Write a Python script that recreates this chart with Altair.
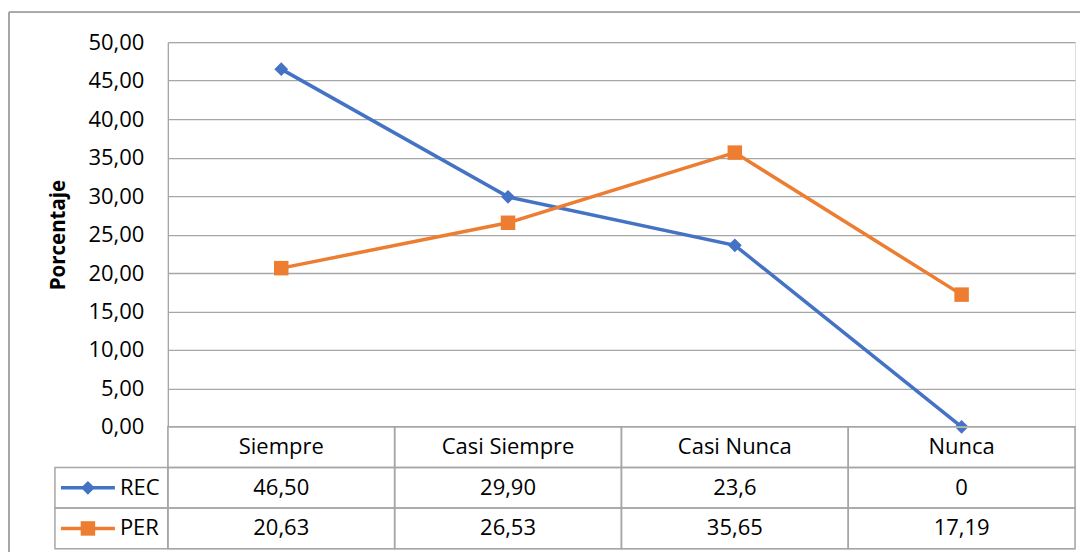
import altair as alt
import pandas as pd

categories = ["Siempre", "Casi Siempre", "Casi Nunca", "Nunca"]
series_names = ["REC", "PER"]
rec_values = [46.50, 29.90, 23.6, 0]
per_values = [20.63, 26.53, 35.65, 17.19]
rec_labels = ["46,50", "29,90", "23,6", "0"]
per_labels = ["20,63", "26,53", "35,65", "17,19"]
y_ticks = [0, 5, 10, 15, 20, 25, 30, 35, 40, 45, 50]
y_title = "Porcentaje"

colors = ["#4472C4", "#ED7D31"]
shapes = ["diamond", "square"]
marker_sizes = [190, 210]
grid_gray = "#a6a6a6"
FONT = "Open Sans"

long_rows = []
for c, r, p in zip(categories, rec_values, per_values):
    long_rows.append({"cat": c, "series": "REC", "value": r})
    long_rows.append({"cat": c, "series": "PER", "value": p})
df = pd.DataFrame(long_rows)

table_rows = []
for c, rl, pl in zip(categories, rec_labels, per_labels):
    table_rows.append({"cat": c, "row": "hdr", "label": c})
    table_rows.append({"cat": c, "row": "REC", "label": rl})
    table_rows.append({"cat": c, "row": "PER", "label": pl})
tdf = pd.DataFrame(table_rows)
ldf = pd.DataFrame({"row": series_names, "series": series_names})

W, H_TOP, H_TAB = 908, 385, 122

xscale = alt.Scale(type="band", domain=categories, paddingInner=0, paddingOuter=0)
color_scale = alt.Scale(domain=series_names, range=colors)
shape_scale = alt.Scale(domain=series_names, range=shapes)
size_scale = alt.Scale(domain=series_names, range=marker_sizes)

x_c = alt.X("cat:N", sort=categories, scale=xscale, axis=None, bandPosition=0.5)
y_enc = alt.Y(
    "value:Q",
    scale=alt.Scale(domain=[0, 50], nice=False),
    axis=alt.Axis(
        values=y_ticks,
        tickCount=11,
        labelOverlap=False,
        labelExpr="replace(format(datum.value, '.2f'), '.', ',')",
        title=y_title,
        titleFontWeight="bold",
        titleFontSize=20.5,
        titleFont=FONT,
        titleColor="#000000",
        titlePadding=19,
        labelFontSize=22,
        labelFont=FONT,
        labelColor="#000000",
        labelPadding=24,
        ticks=False,
        grid=True,
        gridColor=grid_gray,
        gridWidth=1.3,
        domainColor=grid_gray,
        domainWidth=1.3,
    ),
)

base = alt.Chart(df)
lines = base.mark_line(strokeWidth=3.5).encode(
    x=x_c, y=y_enc,
    color=alt.Color("series:N", scale=color_scale, legend=None),
    detail="series:N",
)
points = base.mark_point(filled=True, opacity=1).encode(
    x=x_c, y="value:Q",
    color=alt.Color("series:N", scale=color_scale, legend=None),
    shape=alt.Shape("series:N", scale=shape_scale, legend=None),
    size=alt.Size("series:N", scale=size_scale, legend=None),
)
frame_left = base.mark_rule(color=grid_gray, strokeWidth=1).encode(
    x=alt.value(-159), y=alt.value(-30), y2=alt.value(510)
)
frame_top = base.mark_rule(color=grid_gray, strokeWidth=1).encode(
    x=alt.value(-159), x2=alt.value(913), y=alt.value(-30)
)

row_order = ["hdr", "REC", "PER"]
yrow = alt.Scale(type="band", domain=row_order, paddingInner=0, paddingOuter=0)
tb = alt.Chart(tdf)
cells = tb.mark_rect(fill="white", fillOpacity=0, stroke=grid_gray, strokeWidth=1.5).encode(
    x=alt.X("cat:N", sort=categories, scale=xscale, axis=None),
    y=alt.Y("row:N", sort=row_order, scale=yrow, axis=None),
)
cell_text = tb.mark_text(fontSize=22, font=FONT, color="#000000", baseline="middle").encode(
    x=x_c,
    y=alt.Y("row:N", sort=row_order, scale=yrow, axis=None, bandPosition=0.5),
    text="label:N",
)
lb = alt.Chart(ldf)
leg_cells = lb.mark_rect(fill="white", fillOpacity=0, stroke=grid_gray, strokeWidth=1.5).encode(
    x=alt.value(-113), x2=alt.value(0),
    y=alt.Y("row:N", sort=row_order, scale=yrow, axis=None),
)
leg_lines = lb.mark_rule(strokeWidth=3.5).encode(
    x=alt.value(-107), x2=alt.value(-53),
    y=alt.Y("row:N", sort=row_order, scale=yrow, axis=None, bandPosition=0.5),
    color=alt.Color("series:N", scale=color_scale, legend=None),
)
leg_pts = lb.mark_point(filled=True, opacity=1).encode(
    x=alt.value(-80),
    y=alt.Y("row:N", sort=row_order, scale=yrow, axis=None, bandPosition=0.5),
    color=alt.Color("series:N", scale=color_scale, legend=None),
    shape=alt.Shape("series:N", scale=shape_scale, legend=None),
    size=alt.Size("series:N", scale=size_scale, legend=None),
)
leg_text = lb.mark_text(fontSize=22, font=FONT, color="#000000", align="left", baseline="middle").encode(
    x=alt.value(-48),
    y=alt.Y("row:N", sort=row_order, scale=yrow, axis=None, bandPosition=0.5),
    text="series:N",
)

top = alt.layer(frame_left, frame_top, lines, points).properties(width=W, height=H_TOP)
table = alt.layer(cells, cell_text, leg_cells, leg_lines, leg_pts, leg_text).properties(
    width=W, height=H_TAB
)

chart = alt.vconcat(top, table, spacing=0, bounds="flush").properties(
    padding={"left": 0, "top": 3, "right": 0, "bottom": 0}
).configure_view(stroke=None).configure(font=FONT, background="white")

chart.save("out.html", embed_options={"renderer": "svg", "actions": False})
